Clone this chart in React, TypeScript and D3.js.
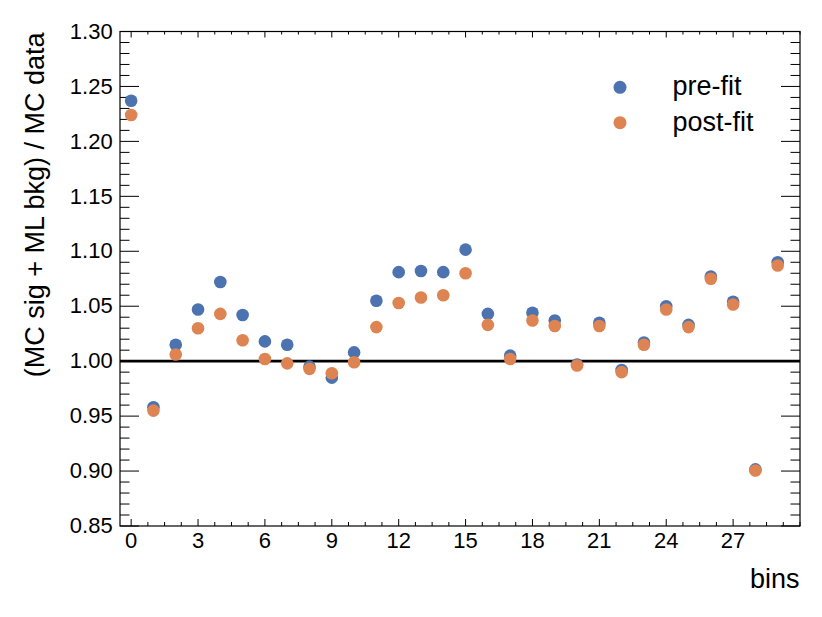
import { useRef, useEffect } from 'react';
import * as d3 from 'd3';

const BINS = d3.range(30);

const PRE_FIT = [
  1.237, 0.958, 1.015, 1.047, 1.072, 1.042, 1.018, 1.015, 0.995, 0.985,
  1.008, 1.055, 1.081, 1.082, 1.081, 1.1015, 1.043, 1.005, 1.044, 1.037,
  0.997, 1.035, 0.992, 1.017, 1.050, 1.033, 1.077, 1.054, 0.9015, 1.090,
];

const POST_FIT = [
  1.224, 0.955, 1.006, 1.030, 1.043, 1.019, 1.002, 0.998, 0.993, 0.989,
  0.999, 1.031, 1.053, 1.058, 1.060, 1.080, 1.033, 1.002, 1.037, 1.032,
  0.996, 1.032, 0.990, 1.015, 1.047, 1.031, 1.075, 1.0515, 0.9005, 1.087,
];

const X_TICKS = [0, 3, 6, 9, 12, 15, 18, 21, 24, 27];
const Y_TICKS = [0.85, 0.9, 0.95, 1.0, 1.05, 1.1, 1.15, 1.2, 1.25, 1.3];

const SERIES = [
  { name: 'pre-fit', values: PRE_FIT, color: '#4C72B0' },
  { name: 'post-fit', values: POST_FIT, color: '#DD8452' },
];

const FONT = '"Liberation Sans", Arial, Helvetica, sans-serif';

export default function App() {
  const svgRef = useRef<SVGSVGElement>(null);

  useEffect(() => {
    if (!svgRef.current) return;
    const width = 822;
    const height = 617;
    const margin = { top: 31.5, right: 22, bottom: 91, left: 120 };

    const svg = d3.select(svgRef.current);
    svg.selectAll('*').remove();
    svg.attr('width', width).attr('height', height).attr('viewBox', `0 0 ${width} ${height}`);

    const x = d3.scaleLinear().domain([-0.5, 30]).range([margin.left, width - margin.right]);
    const y = d3.scaleLinear().domain([0.85, 1.3]).range([height - margin.bottom, margin.top]);

    const x0 = margin.left, x1 = width - margin.right;
    const y0 = height - margin.bottom, y1 = margin.top;

    // minor ticks
    const xMinor = d3.range(0, 30.01, 0.75).filter(v => !X_TICKS.includes(v));
    const yMinor = d3.range(85, 131, 1).map(v => v / 100).filter(v => Math.round(v * 100) % 5 !== 0);

    const ticks = svg.append('g').attr('stroke', '#000').attr('stroke-width', 1);

    // bottom / top
    [[X_TICKS, 7], [xMinor, 4]].forEach(([vals, len]) => {
      (vals as number[]).forEach(v => {
        ticks.append('line').attr('x1', x(v)).attr('x2', x(v)).attr('y1', y0).attr('y2', y0 - (len as number));
        ticks.append('line').attr('x1', x(v)).attr('x2', x(v)).attr('y1', y1).attr('y2', y1 + (len as number) - 1);
      });
    });

    // left / right
    [[Y_TICKS, 19], [yMinor, 9.5]].forEach(([vals, len]) => {
      (vals as number[]).forEach(v => {
        ticks.append('line').attr('y1', y(v)).attr('y2', y(v)).attr('x1', x0).attr('x2', x0 + (len as number));
        ticks.append('line').attr('y1', y(v)).attr('y2', y(v)).attr('x1', x1).attr('x2', x1 - (len as number));
      });
    });

    // 1.0 reference
    svg.append('line')
      .attr('x1', x0).attr('x2', x1)
      .attr('y1', y(1.0)).attr('y2', y(1.0))
      .attr('stroke', '#000').attr('stroke-width', 2.7);

    // Points
    SERIES.forEach(s => {
      svg.append('g')
        .selectAll('circle')
        .data(BINS)
        .join('circle')
        .attr('cx', d => x(d))
        .attr('cy', d => y(s.values[d]))
        .attr('r', 6.3)
        .attr('fill', s.color);
    });

    // Frame
    svg.append('rect')
      .attr('x', x0).attr('y', y1)
      .attr('width', x1 - x0).attr('height', y0 - y1)
      .attr('fill', 'none').attr('stroke', '#000').attr('stroke-width', 1.2);

    // Tick labels
    svg.append('g')
      .selectAll('text')
      .data(X_TICKS)
      .join('text')
      .attr('x', d => x(d))
      .attr('y', y0 + 22)
      .attr('text-anchor', 'middle')
      .attr('font-family', FONT).attr('font-size', '22px').attr('fill', '#000')
      .text(d => d);

    svg.append('g')
      .selectAll('text')
      .data(Y_TICKS)
      .join('text')
      .attr('x', x0 - 7.3)
      .attr('y', d => y(d) + 7.2)
      .attr('text-anchor', 'end')
      .attr('font-family', FONT).attr('font-size', '22px').attr('fill', '#000')
      .text(d => d.toFixed(2));

    // Axis labels
    svg.append('text')
      .attr('x', x1 - 0.5)
      .attr('y', 588.3)
      .attr('text-anchor', 'end')
      .attr('font-family', FONT).attr('font-size', '27px').attr('fill', '#000')
      .text('bins');

    svg.append('text')
      .attr('transform', `translate(44,${y1 + 1}) rotate(-90)`)
      .attr('text-anchor', 'end')
      .attr('font-family', FONT).attr('font-size', '27px').attr('fill', '#000')
      .text('(MC sig + ML bkg) / MC data');

    // Legend
    SERIES.forEach((s, i) => {
      const ly = 87.3 + i * 35.4;
      svg.append('circle').attr('cx', 620).attr('cy', ly).attr('r', 6.5).attr('fill', s.color);
      svg.append('text')
        .attr('x', 672.5)
        .attr('y', ly + 7.8)
        .attr('font-family', FONT).attr('font-size', '27px').attr('fill', '#000')
        .text(s.name);
    });
  }, []);

  return (
    <svg
      ref={svgRef}
      style={{ position: 'absolute', left: 0, top: 0, display: 'block', background: '#fff' }}
    />
  );
}
